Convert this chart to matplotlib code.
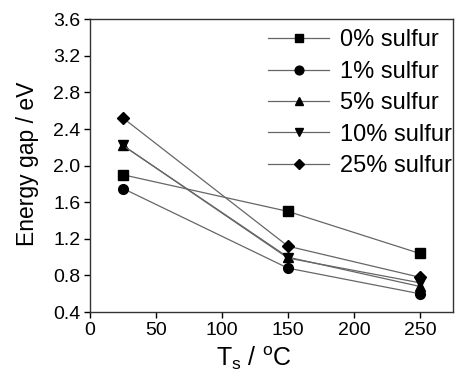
import matplotlib
matplotlib.use('Agg')
import matplotlib.pyplot as plt

plt.rcParams['font.family'] = ['Liberation Sans', 'DejaVu Sans']
plt.rcParams['mathtext.fontset'] = 'custom'
plt.rcParams['mathtext.rm'] = 'Liberation Sans'

# substrate temperature (°C)
temps = [25, 150, 250]

# energy gap (eV) for each sulfur content
gap_0 = [1.90, 1.50, 1.04]
gap_1 = [1.75, 0.88, 0.60]
gap_5 = [2.22, 1.00, 0.68]
gap_10 = [2.22, 0.99, 0.72]
gap_25 = [2.52, 1.12, 0.78]

labels = ['0% sulfur', '1% sulfur', '5% sulfur', '10% sulfur', '25% sulfur']
markers = ['s', 'o', '^', 'v', 'D']
series = [gap_0, gap_1, gap_5, gap_10, gap_25]

fig = plt.figure(figsize=(4.57, 3.76), dpi=100)
ax = fig.add_axes([0.197, 0.170, 0.794, 0.779])

for y, m, lab in zip(series, markers, labels):
    ms = 6 if m == 'D' else 7
    ax.plot(temps, y, color='#666666', lw=0.9, marker=m, ms=ms,
            mfc='black', mec='black', label=lab)

ax.set_xlim(0, 275)
ax.set_ylim(0.4, 3.6)
ax.set_xticks([0, 50, 100, 150, 200, 250])
ax.set_yticks([0.4, 0.8, 1.2, 1.6, 2.0, 2.4, 2.8, 3.2, 3.6])
ax.tick_params(labelsize=14, direction='out', length=4, width=1, pad=3)
for s in ax.spines.values():
    s.set_linewidth(1.0)
    s.set_color('#333333')

ax.set_xlabel(r'T$_\mathrm{s}$ / $^\mathrm{o}$C', fontsize=18)
ax.xaxis.set_label_coords(0.452, -0.11)
ax.set_ylabel('Energy gap / eV', fontsize=16.5)
ax.yaxis.set_label_coords(-0.14, 0.505)

ax.legend(loc='upper right', bbox_to_anchor=(0.997, 0.965), frameon=False,
          fontsize=17, handlelength=2.6, handletextpad=0.45, labelspacing=0.4,
          borderaxespad=0.0, borderpad=0.0, markerscale=0.9)

fig.savefig('out.png', dpi=100)
